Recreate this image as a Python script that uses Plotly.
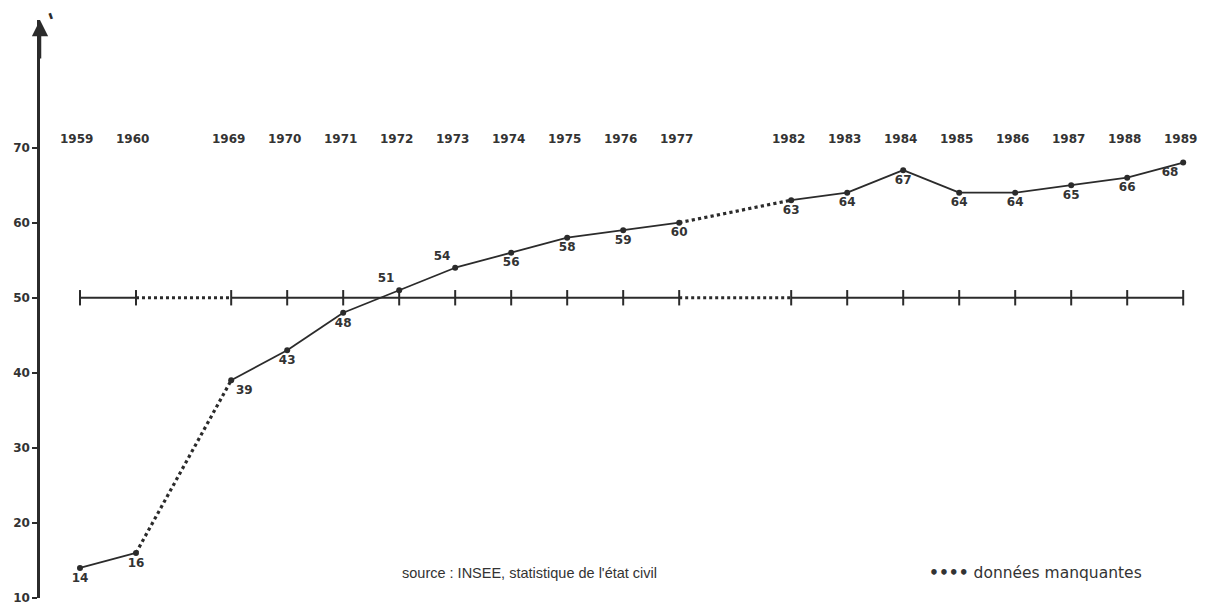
import plotly.graph_objects as go

# data
years = [1959, 1960, 1969, 1970, 1971, 1972, 1973, 1974, 1975, 1976, 1977,
         1982, 1983, 1984, 1985, 1986, 1987, 1988, 1989]
values = [14, 16, 39, 43, 48, 51, 54, 56, 58, 59, 60,
          63, 64, 67, 64, 64, 65, 66, 68]
label_side = ["bottom center", "bottom center", "bottom right", "bottom center",
              "bottom center", "top left", "top left", "bottom center",
              "bottom center", "bottom center", "bottom center", "bottom center",
              "bottom center", "bottom center", "bottom center", "bottom center",
              "bottom center", "bottom center", "bottom left"]
reference_level = 50
y_ticks = [10, 20, 30, 40, 50, 60, 70]

INK = "#2b2b2b"
LABEL_FONT = dict(family="DejaVu Sans", size=12, color="#333333", weight="bold")


def slot_positions(yrs):
    """Place years on an even grid; jumps over missing years get a wider step."""
    pos = [0.0]
    for a, b in zip(yrs[:-1], yrs[1:]):
        if b - a == 1:
            pos.append(pos[-1] + 1)
        elif b - a < 6:
            pos.append(pos[-1] + 2.0)   # 1977 -> 1982
        else:
            pos.append(pos[-1] + 1.7)   # 1960 -> 1969
    return pos


xs = slot_positions(years)


def split_segments(x, y, yrs):
    """Return (solid, dotted) polylines: consecutive years solid, gaps dotted."""
    sx, sy, dx, dy = [], [], [], []
    for i in range(len(x) - 1):
        if yrs[i + 1] - yrs[i] == 1:
            sx += [x[i], x[i + 1], None]
            sy += [y[i], y[i + 1], None]
        else:
            dx += [x[i], x[i + 1], None]
            dy += [y[i], y[i + 1], None]
    return (sx, sy), (dx, dy)


fig = go.Figure()

ref = [reference_level] * len(years)
(rs, rd) = split_segments(xs, ref, years)
fig.add_trace(go.Scatter(x=rs[0], y=rs[1], mode="lines",
                         line=dict(color=INK, width=1.8), hoverinfo="skip"))
fig.add_trace(go.Scatter(x=rd[0], y=rd[1], mode="lines",
                         line=dict(color=INK, width=3, dash="dot"), hoverinfo="skip"))
fig.add_trace(go.Scatter(x=xs, y=ref, mode="markers",
                         marker=dict(symbol="line-ns-open", size=11, color=INK,
                                     line=dict(color=INK, width=2)),
                         hoverinfo="skip"))

(vs, vd) = split_segments(xs, values, years)
fig.add_trace(go.Scatter(x=vs[0], y=vs[1], mode="lines",
                         line=dict(color=INK, width=1.8), hoverinfo="skip"))
fig.add_trace(go.Scatter(x=vd[0], y=vd[1], mode="lines",
                         line=dict(color=INK, width=3.2, dash="dot"), hoverinfo="skip"))
fig.add_trace(go.Scatter(x=xs, y=values, mode="markers+text",
                         marker=dict(size=6, color=INK),
                         text=[str(v) for v in values], textposition=label_side,
                         textfont=LABEL_FONT))

# year labels above the curve
for x, yr in zip(xs, years):
    fig.add_annotation(x=x, y=71.2, xref="x", yref="y", text=str(yr),
                       showarrow=False, font=LABEL_FONT, xshift=-3)

x0 = -0.714
# arrow head on the vertical axis
fig.add_annotation(x=x0, y=87, xref="x", yref="y", ax=0, ay=40, text="",
                   showarrow=True, arrowhead=2, arrowsize=1.3, arrowwidth=2.5,
                   arrowcolor=INK)
fig.add_annotation(x=x0, y=87, xref="x", yref="y", text="'", showarrow=False,
                   xshift=12, yshift=-1, textangle=-20,
                   font=dict(family="DejaVu Sans", size=22, color=INK,
                             weight="bold"))

fig.add_annotation(xref="paper", yref="paper", x=0.31, y=0.043,
                   text="source : INSEE, statistique de l'état civil",
                   showarrow=False, xanchor="left", yanchor="middle",
                   font=dict(family="Liberation Sans", size=14.5, color="#333333"))
fig.add_annotation(xref="paper", yref="paper", x=0.765, y=0.043,
                   text="<b>••••</b> données manquantes", showarrow=False,
                   xanchor="left", yanchor="middle",
                   font=dict(family="DejaVu Sans", size=15.5, color="#333333"))

# the page body adds an 8px offset, so margins are trimmed by 8px
fig.update_layout(
    width=1206, height=602,
    margin=dict(l=32, r=14, t=12, b=12, autoexpand=False),
    paper_bgcolor="white", plot_bgcolor="white",
    showlegend=False,
    xaxis=dict(range=[x0, 20.0], visible=False),
    yaxis=dict(range=[10, 87], tickvals=y_ticks, showgrid=False, zeroline=False,
               showline=True, linecolor=INK, linewidth=2.5, ticks="outside",
               ticklen=5, tickwidth=1.5, tickcolor=INK, tickfont=LABEL_FONT,
               automargin=False),
)

fig.write_html("out.html")
